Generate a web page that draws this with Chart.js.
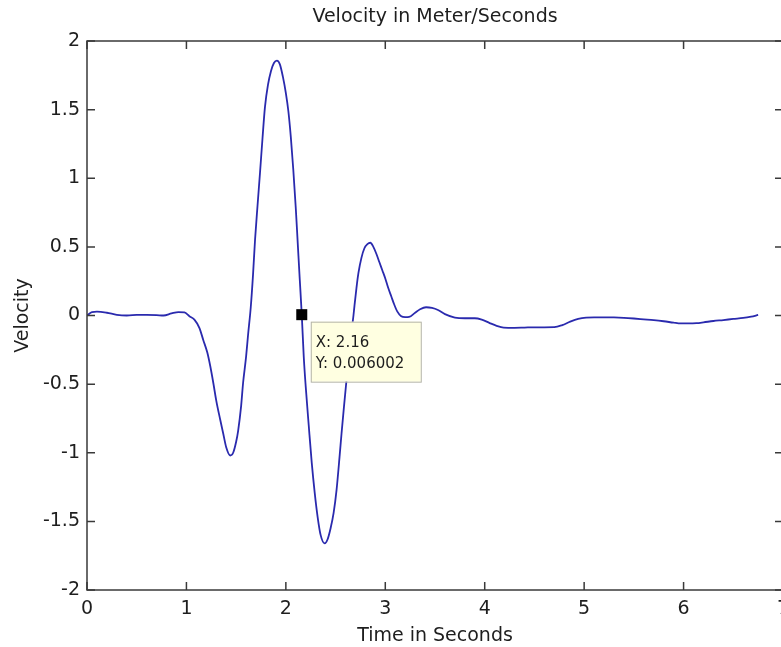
<!DOCTYPE html>
<html>
<head>
<meta charset="utf-8">
<title>Velocity in Meter/Seconds</title>
<script src="https://cdn.jsdelivr.net/npm/chart.js@4/dist/chart.umd.min.js"></script>
<style>
    html, body { margin: 0; padding: 0; background: #fff; overflow: hidden; }
    #wrap { position: relative; width: 800px; height: 647px; }
</style>
</head>
<body>
<div id="wrap"><canvas id="velocity-chart"></canvas></div>
<script>
// Values
const timeValues = [
    0.00, 0.05, 0.10, 0.20, 0.30, 0.40, 0.50, 0.60, 0.70, 0.77,
    0.85, 0.92, 0.98, 1.03, 1.08, 1.13, 1.17, 1.21, 1.24, 1.27,
    1.30, 1.34, 1.37, 1.40, 1.44, 1.47, 1.50, 1.52, 1.55, 1.57,
    1.60, 1.62, 1.647, 1.67, 1.69, 1.715, 1.74, 1.765, 1.79, 1.82,
    1.85, 1.88, 1.91, 1.94, 1.97, 2.00, 2.025, 2.05, 2.075, 2.10,
    2.12, 2.14, 2.16, 2.18, 2.20, 2.23, 2.26, 2.29, 2.32, 2.35,
    2.39, 2.42, 2.45, 2.48, 2.51, 2.54, 2.56, 2.585, 2.61, 2.635,
    2.66, 2.68, 2.69, 2.71, 2.73, 2.76, 2.79, 2.82, 2.85, 2.88,
    2.91, 2.94, 2.97, 3.00, 3.03, 3.06, 3.09, 3.12, 3.16, 3.20, 3.24,
    3.30, 3.35, 3.41, 3.47, 3.53, 3.60, 3.70, 3.80, 3.90, 3.97,
    4.05, 4.12, 4.19, 4.30, 4.40, 4.50, 4.60, 4.70, 4.78, 4.86,
    4.94, 5.02, 5.10, 5.20, 5.30, 5.40, 5.50, 5.60, 5.70, 5.80,
    5.90, 5.97, 6.05, 6.13, 6.20, 6.30, 6.40, 6.50, 6.60, 6.68,
    6.75
];
const velocityValues = [
    0.00, 0.025, 0.028, 0.02, 0.005, 0.0, 0.004, 0.005, 0.003, 0.0,
    0.015, 0.025, 0.022, -0.005, -0.03, -0.09, -0.18, -0.27, -0.37, -0.49,
    -0.62, -0.76, -0.86, -0.96, -1.02, -1.00, -0.92, -0.84, -0.66, -0.49,
    -0.30, -0.14, 0.06, 0.30, 0.55, 0.80, 1.04, 1.29, 1.52, 1.68,
    1.78, 1.84, 1.857, 1.83, 1.74, 1.62, 1.49, 1.30, 1.06, 0.78,
    0.52, 0.26, 0.006002, -0.30, -0.52, -0.80, -1.07, -1.29, -1.47, -1.60,
    -1.66, -1.63, -1.55, -1.44, -1.27, -1.03, -0.86, -0.66, -0.47, -0.29,
    -0.12, 0.0, 0.07, 0.20, 0.31, 0.42, 0.49, 0.52, 0.53, 0.50,
    0.45, 0.39, 0.33, 0.27, 0.20, 0.14, 0.08, 0.03, -0.005, -0.012, -0.01,
    0.02, 0.045, 0.06, 0.055, 0.04, 0.01, -0.015, -0.02, -0.02, -0.03,
    -0.055, -0.075, -0.088, -0.09, -0.088, -0.086, -0.086, -0.085, -0.07, -0.045,
    -0.025, -0.015, -0.013, -0.013, -0.014, -0.017, -0.022, -0.028, -0.034, -0.042,
    -0.052, -0.058, -0.058, -0.056, -0.05, -0.04, -0.033, -0.025, -0.018, -0.008,
    0.004
];
const xTicks = [0, 1, 2, 3, 4, 5, 6, 7];
const yTicks = [-2, -1.5, -1, -0.5, 0, 0.5, 1, 1.5, 2];
const datatipTime = 2.16;

const axisColor = "#3a3a3a";
const textColor = "#1e1e1e";
Chart.defaults.font.family = "'DejaVu Sans', sans-serif";
Chart.defaults.font.size = 19;
Chart.defaults.color = textColor;

// box round the axes with inward ticks on all four sides
const frameTicks = {
    id: "frameTicks",
    afterDatasetsDraw(chart) {
        const { ctx, chartArea: a, scales: { x, y } } = chart;
        const len = 8;
        ctx.save();
        ctx.strokeStyle = axisColor;
        ctx.lineWidth = 1.5;
        ctx.strokeRect(a.left, a.top, a.right - a.left, a.bottom - a.top);
        ctx.beginPath();
        x.ticks.forEach(t => {
            const px = x.getPixelForValue(t.value);
            ctx.moveTo(px, a.bottom); ctx.lineTo(px, a.bottom - len);
            ctx.moveTo(px, a.top); ctx.lineTo(px, a.top + len);
        });
        y.ticks.forEach(t => {
            const py = y.getPixelForValue(t.value);
            ctx.moveTo(a.left, py); ctx.lineTo(a.left + len, py);
            ctx.moveTo(a.right, py); ctx.lineTo(a.right - len, py);
        });
        ctx.stroke();
        ctx.restore();
    }
};

// MATLAB style data tip
const dataTip = {
    id: "dataTip",
    afterDraw(chart) {
        const i = timeValues.indexOf(datatipTime);
        if (i < 0) return;
        const { ctx, scales: { x, y } } = chart;
        const px = x.getPixelForValue(timeValues[i]);
        const py = y.getPixelForValue(velocityValues[i]);
        ctx.save();
        ctx.fillStyle = "#000";
        ctx.fillRect(px - 5.5, py - 5.5, 11, 11);
        const bx = px + 9, by = py + 7, bw = 110, bh = 60;
        ctx.fillStyle = "#ffffe1";
        ctx.fillRect(bx, by, bw, bh);
        ctx.strokeStyle = "#b4b4a8";
        ctx.lineWidth = 1;
        ctx.strokeRect(bx + 0.5, by + 0.5, bw, bh);
        ctx.fillStyle = textColor;
        ctx.font = "15px 'DejaVu Sans', sans-serif";
        ctx.textBaseline = "middle";
        ctx.fillText("X: " + timeValues[i], bx + 5, by + 21);
        ctx.fillText("Y: " + velocityValues[i], bx + 5, by + 42);
        ctx.restore();
    }
};

new Chart(document.getElementById("velocity-chart"), {
    type: "line",
    data: {
        datasets: [{
            label: "Velocity",
            data: timeValues.map((t, i) => ({ x: t, y: velocityValues[i] })),
            borderColor: "#2a2aae",
            borderWidth: 1.8,
            pointRadius: 0,
            cubicInterpolationMode: "monotone",
            fill: false
        }]
    },
    options: {
        responsive: true,
        maintainAspectRatio: false,
        animation: false,
        layout: { padding: { top: 0, right: 17, bottom: 0, left: 0 } },
        plugins: {
            legend: { display: false },
            tooltip: { enabled: false },
            title: {
                display: true,
                text: "Velocity in Meter/Seconds",
                fullSize: false,
                color: textColor,
                font: { size: 19, weight: "normal" },
                padding: { top: 6, bottom: 12.2 }
            }
        },
        scales: {
            x: {
                type: "linear",
                min: 0,
                max: 7,
                afterBuildTicks: s => { s.ticks = xTicks.map(v => ({ value: v })); },
                afterFit: s => { s.height = 57; },
                grid: { display: false, drawTicks: false },
                border: { display: false },
                ticks: { padding: 8, color: textColor, maxRotation: 0, callback: v => String(v) },
                title: { display: true, text: "Time in Seconds", color: textColor, padding: { top: 0, bottom: 0 } }
            },
            y: {
                type: "linear",
                min: -2,
                max: 2,
                afterBuildTicks: s => { s.ticks = yTicks.map(v => ({ value: v })); },
                afterFit: s => { s.width = 87; },
                grid: { display: false, drawTicks: false },
                border: { display: false },
                ticks: { padding: 7, color: textColor, callback: v => String(v) },
                title: { display: true, text: "Velocity", color: textColor, padding: { top: 12, bottom: 0 } }
            }
        }
    },
    plugins: [frameTicks, dataTip]
});
</script>
</body>
</html>
